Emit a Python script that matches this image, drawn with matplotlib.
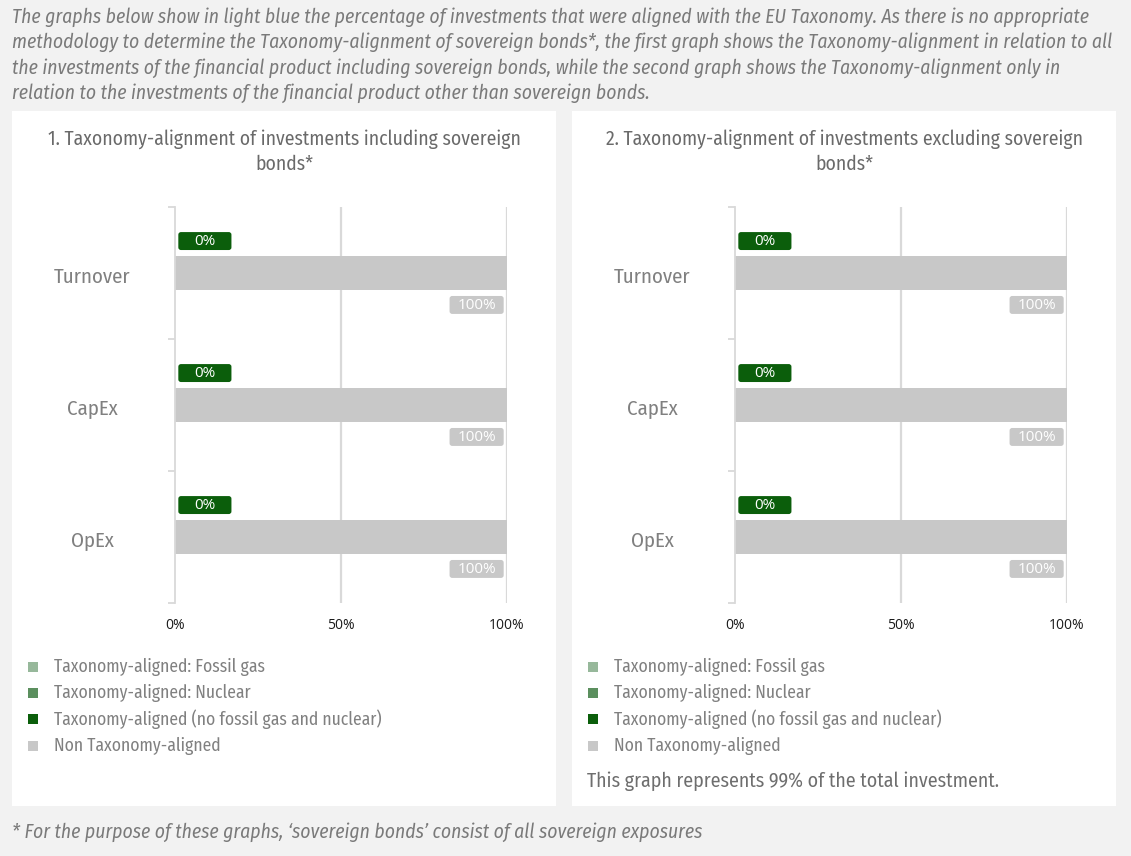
import matplotlib.pyplot as plt
from matplotlib.patches import Rectangle, FancyBboxPatch

W, H = 1131, 856

categories = ["Turnover", "CapEx", "OpEx"]
aligned = [0, 0, 0]            # Taxonomy-aligned (no fossil gas and nuclear)
fossil_gas = [0, 0, 0]
nuclear = [0, 0, 0]
non_aligned = [100, 100, 100]
xticks = [0, 50, 100]
xtick_labels = ["0%", "50%", "100%"]
legend_labels = ["Taxonomy-aligned: Fossil gas", "Taxonomy-aligned: Nuclear",
                 "Taxonomy-aligned (no fossil gas and nuclear)", "Non Taxonomy-aligned"]
legend_colors = ["#97b89b", "#5b8f5e", "#0b5e0b", "#c8c8c8"]
titles = ["1. Taxonomy-alignment of investments including sovereign\nbonds*",
          "2. Taxonomy-alignment of investments excluding sovereign\nbonds*"]
intro = ("The graphs below show in light blue the percentage of investments that were aligned with the EU Taxonomy. As there is no appropriate\n"
         "methodology to determine the Taxonomy-alignment of sovereign bonds*, the first graph shows the Taxonomy-alignment in relation to all\n"
         "the investments of the financial product including sovereign bonds, while the second graph shows the Taxonomy-alignment only in\n"
         "relation to the investments of the financial product other than sovereign bonds.")
footnote = "* For the purpose of these graphs, \u2018sovereign bonds\u2019 consist of all sovereign exposures"
note2 = "This graph represents 99% of the total investment."

FONT = ["Fira Sans Condensed", "DejaVu Sans"]
plt.rcParams['font.family'] = FONT

fig = plt.figure(figsize=(W / 100, H / 100), dpi=100)
fig.patch.set_facecolor("#f2f2f2")


def fx(px):
    return px / W


def fy(py):
    return 1 - py / H


fig.text(fx(12), fy(55), intro, ha="left", va="center", style="italic",
         fontsize=14.1, color="#7a7a7a", linespacing=1.36)
fig.text(fx(12), fy(832), footnote, ha="left", va="center", style="italic",
         fontsize=14.1, color="#7a7a7a")

panels = [12, 572]
for p, x0 in enumerate(panels):
    fig.patches.append(Rectangle((fx(x0), fy(806)), fx(544), 695 / H,
                                 transform=fig.transFigure, facecolor="white",
                                 edgecolor="none", zorder=-5))
    fig.text(fx(x0 + 272), fy(152), titles[p], ha="center", va="center",
             fontsize=14.1, color="#6a6a6a", linespacing=1.34)

    ax_left = x0 + 163
    ax = fig.add_axes([fx(ax_left), fy(603), fx(332), 396 / H])
    ax.set_facecolor("none")
    pos = list(range(len(categories)))
    ax.set_xlim(0, 100)
    ax.set_ylim(2.5, -0.5)
    for s in ["top", "right", "bottom"]:
        ax.spines[s].set_visible(False)
    ax.spines["left"].set_color("#d9d9d9")
    ax.spines["left"].set_linewidth(1.3)
    ax.set_yticks([-0.5, 0.5, 1.5, 2.5], minor=False)
    ax.set_yticklabels([])
    ax.tick_params(axis="y", length=5, color="#d9d9d9", width=1.3)
    for i, c in enumerate(categories):
        ax.text(-0.25, i + 0.03, c, transform=ax.get_yaxis_transform(),
                ha="center", va="center", fontsize=15, color="#808080")
    ax.set_xticks(xticks)
    ax.set_xticklabels(xtick_labels, family="Open Sans", fontsize=10, color="#1a1a1a")
    ax.tick_params(axis="x", length=0, pad=11)
    for g in xticks[1:]:
        ax.axvline(g, color="#d9d9d9", lw=1.6, zorder=0)

    off = 0.242
    ax.barh([i - off for i in pos], aligned, height=0.13, color=legend_colors[2], zorder=2)
    ax.barh(pos, non_aligned, height=0.258, color=legend_colors[3], zorder=2)

    for i in pos:
        # green label box for aligned share
        bx = aligned[i] + 1
        box = FancyBboxPatch((bx, i - off - 0.068), 16, 0.136,
                             boxstyle="round,pad=0,rounding_size=0.8",
                             mutation_aspect=0.025,
                             facecolor=legend_colors[2], edgecolor="none", zorder=3)
        ax.add_patch(box)
        ax.text(bx + 8, i - off + 0.005, f"{aligned[i]}%", ha="center", va="center",
                fontsize=11, color="white", family="Open Sans", zorder=4)
        # grey label box for non-aligned share
        rx = non_aligned[i] - 1
        box = FancyBboxPatch((rx - 16.3, i + off - 0.068), 16.3, 0.136,
                             boxstyle="round,pad=0,rounding_size=0.8",
                             mutation_aspect=0.025,
                             facecolor=legend_colors[3], edgecolor="none", zorder=3)
        ax.add_patch(box)
        ax.text(rx - 8.15, i + off + 0.005, f"{non_aligned[i]}%", ha="center", va="center",
                fontsize=11, color="white", family="Open Sans", zorder=4)

    for k, (lab, col) in enumerate(zip(legend_labels, legend_colors)):
        yy = [667, 693, 719, 746][k]
        fig.patches.append(Rectangle((fx(x0 + 16), fy(yy + 5)), fx(10), 10 / H,
                                     transform=fig.transFigure, facecolor=col,
                                     edgecolor="none", zorder=2))
        fig.text(fx(x0 + 42), fy(yy), lab, ha="left", va="center",
                 fontsize=12.65, color="#808080")

fig.text(fx(587), fy(781), note2, ha="left", va="center", fontsize=14.3, color="#6e6e6e")

fig.savefig("out.png", dpi=100, facecolor=fig.get_facecolor())
